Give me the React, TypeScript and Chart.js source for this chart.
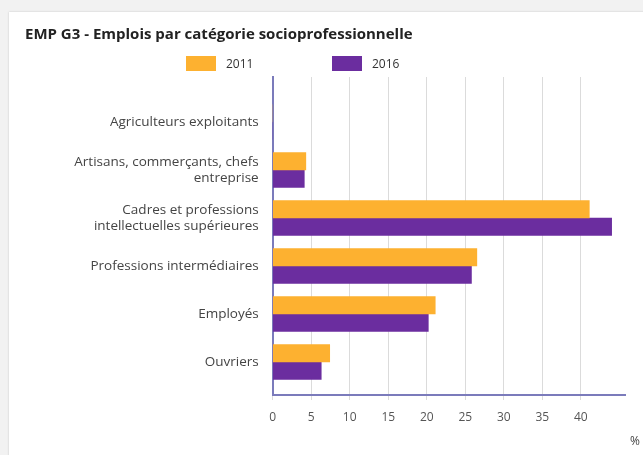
import React, { useEffect, useRef } from "react";
import { Chart, registerables } from "chart.js";

Chart.register(...registerables);

const titleText = "EMP G3 - Emplois par catégorie socioprofessionnelle";
const unitLabel = "%";
const categories: (string | string[])[] = [
  "Agriculteurs exploitants",
  ["Artisans, commerçants, chefs", "entreprise"],
  ["Cadres et professions", "intellectuelles supérieures"],
  "Professions intermédiaires",
  "Employés",
  "Ouvriers",
];
const seriesNames = ["2011", "2016"];
const values2011 = [0, 4.3, 41.1, 26.5, 21.1, 7.4];
const values2016 = [0, 4.1, 44.0, 25.8, 20.2, 6.3];
const xTickValues = [0, 5, 10, 15, 20, 25, 30, 35, 40];
const seriesColors = ["#fdb130", "#6b2d9f"];

const AXIS_COLOR = "#7b7bbb";
const FONT = "'Open Sans', 'DejaVu Sans', sans-serif";

export default function App() {
  const ref = useRef<HTMLCanvasElement | null>(null);

  useEffect(() => {
    if (!ref.current) return;
    Chart.defaults.font.family = FONT;
    const chart = new Chart(ref.current, {
      type: "bar",
      data: {
        labels: categories as any,
        datasets: [
          {
            label: seriesNames[0],
            data: values2011,
            backgroundColor: seriesColors[0],
            borderWidth: 0,
            barThickness: 17.5,
          },
          {
            label: seriesNames[1],
            data: values2016,
            backgroundColor: seriesColors[1],
            borderWidth: 0,
            barThickness: 17.5,
          },
        ],
      },
      options: {
        indexAxis: "y",
        animation: false,
        responsive: false,
        layout: { padding: { top: 19, left: 25, right: 3, bottom: 0 } },
        plugins: {
          legend: { display: false },
          tooltip: { enabled: false },
          title: {
            display: true,
            text: titleText,
            align: "start",
            color: "#222",
            font: { size: 15, weight: "bold", family: FONT, lineHeight: 1.2 },
            padding: { top: 7, bottom: 33 },
          },
          subtitle: {
            display: true,
            text: unitLabel,
            position: "bottom",
            align: "end",
            color: "#444",
            font: { size: 12, family: FONT },
            padding: { top: 0, bottom: 6.2 },
          },
        },
        scales: {
          x: {
            type: "linear",
            position: "bottom",
            min: 0,
            max: 45.8,
            afterBuildTicks: (scale: any) => {
              scale.ticks = xTickValues.map((v) => ({ value: v }));
            },
            grid: {
              color: "rgba(0,0,0,0.14)",
              lineWidth: 1,
              tickLength: 5,
              drawTicks: true,
            },
            border: { display: true, color: AXIS_COLOR, width: 2 },
            ticks: {
              color: "#555",
              font: { size: 12, family: FONT },
              padding: 10,
              maxRotation: 0,
            },
          },
          y: {
            type: "category",
            position: "left",
            afterBuildTicks: (scale: any) => {
              scale._startValue = -0.9375;
              scale._valueRange = 6.625;
            },
            afterFit: (scale: any) => {
              scale.width = 247.7;
            },
            grid: { display: false, drawTicks: false },
            border: { display: true, color: AXIS_COLOR, width: 2 },
            ticks: {
              color: "#444",
              font: { size: 13.5, family: FONT, lineHeight: 1.2 },
              padding: 14,
            },
          },
          yRight: {
            type: "linear",
            position: "right",
            display: true,
            grid: { display: false, drawTicks: false },
            border: { display: false },
            ticks: { display: false },
            afterFit: (scale: any) => {
              scale.width = 14.5;
            },
          },
        },
      } as any,
    });
    return () => chart.destroy();
  }, []);

  return (
    <div style={{ position: "fixed", left: 0, top: 0, width: 643, height: 455, background: "#f2f2f2", overflow: "hidden" }}>
      <div
        style={{
          position: "absolute",
          left: 9,
          top: 12,
          width: 660,
          height: 470,
          background: "#fff",
          boxShadow: "0 0 2px rgba(0,0,0,0.18)",
        }}
      />
      <canvas ref={ref} width={643} height={455} style={{ position: "absolute", left: 0, top: 0, width: 643, height: 455 }} />
      {seriesNames.map((name, i) => (
        <div
          key={name}
          style={{
            position: "absolute",
            left: 186 + i * 146,
            top: 56,
            height: 15,
            display: "flex",
            alignItems: "center",
            fontFamily: FONT,
            fontSize: 12,
            color: "#333",
          }}
        >
          <span style={{ display: "inline-block", width: 30, height: 15, background: seriesColors[i], marginRight: 10 }} />
          <span>{name}</span>
        </div>
      ))}
    </div>
  );
}
